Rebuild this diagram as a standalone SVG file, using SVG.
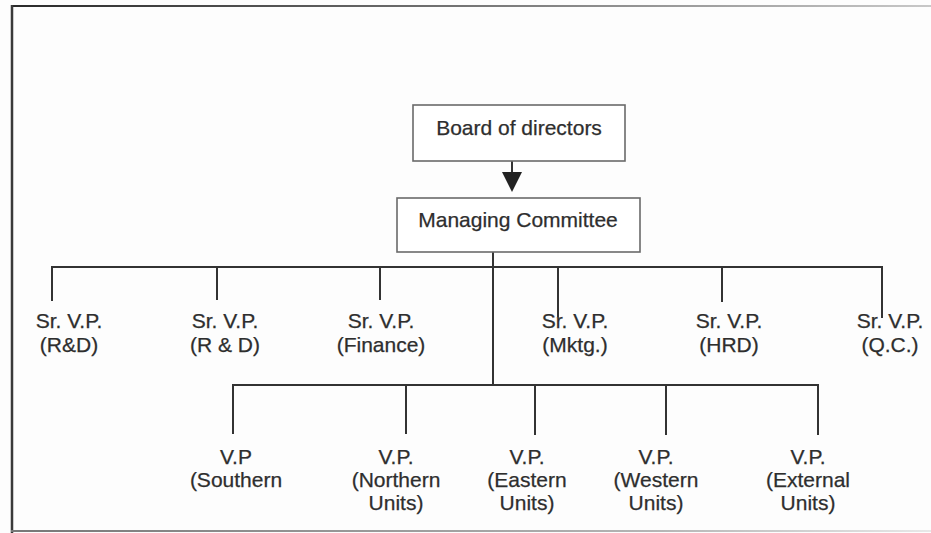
<svg xmlns="http://www.w3.org/2000/svg" width="931" height="533" viewBox="0 0 931 533">
  <defs>
    <style>
      .box { fill: #ffffff; stroke: #6a6a6a; stroke-width: 1.6; }
      .link { fill: none; stroke: #333333; stroke-width: 2; }
      .lbl { font-family: "Liberation Sans", Arial, sans-serif; font-size: 21px; fill: #2e2e2e; text-anchor: middle; stroke: #2e2e2e; stroke-width: 0.25; }
    </style>
    <linearGradient id="topEdge" gradientUnits="userSpaceOnUse" x1="11" y1="0" x2="931" y2="0">
      <stop offset="0" stop-color="#2a2a2a"/>
      <stop offset="0.3" stop-color="#555555"/>
      <stop offset="1" stop-color="#c8c8c8"/>
    </linearGradient>
    <linearGradient id="bottomEdge" gradientUnits="userSpaceOnUse" x1="11" y1="0" x2="931" y2="0">
      <stop offset="0" stop-color="#777777"/>
      <stop offset="0.7" stop-color="#b5b5b5"/>
      <stop offset="1" stop-color="#e8e8e8"/>
    </linearGradient>
  </defs>

  <!-- page -->
  <rect x="0" y="0" width="931" height="533" fill="#fdfdfd"/>
  <line x1="11" y1="6" x2="931" y2="6" stroke="url(#topEdge)" stroke-width="2"/>
  <line x1="12" y1="5" x2="12" y2="533" stroke="#3a3a3a" stroke-width="2.5"/>
  <line x1="11" y1="531" x2="931" y2="531" stroke="url(#bottomEdge)" stroke-width="2"/>

  <!-- connectors -->
  <g id="connectors">
    <line class="link" x1="512" y1="161" x2="512" y2="172"/>
    <path d="M502,172 L522,172 L512,192 Z" fill="#222222"/>
    <!-- senior VP bus -->
    <line class="link" x1="493" y1="252" x2="493" y2="386"/>
    <polyline class="link" points="52,301 52,267 882,267 882,318"/>
    <line class="link" x1="217" y1="267" x2="217" y2="300"/>
    <line class="link" x1="380" y1="267" x2="380" y2="300"/>
    <line class="link" x1="558" y1="267" x2="558" y2="317"/>
    <line class="link" x1="722" y1="267" x2="722" y2="302"/>
    <!-- VP bus -->
    <polyline class="link" points="233,434 233,385 818,385 818,435"/>
    <line class="link" x1="406" y1="385" x2="406" y2="434"/>
    <line class="link" x1="535" y1="385" x2="535" y2="435"/>
    <line class="link" x1="666" y1="385" x2="666" y2="435"/>
  </g>

  <g id="board">
    <rect class="box" x="413" y="105" width="212" height="56"/>
    <text class="lbl" x="519" y="135">Board of directors</text>
  </g>

  <g id="managing-committee">
    <rect class="box" x="397" y="198" width="243" height="54"/>
    <text class="lbl" x="518" y="227">Managing Committee</text>
  </g>

  <g id="svp-rnd-1">
    <text class="lbl" x="69" y="328">Sr. V.P.</text>
    <text class="lbl" x="69" y="352">(R&amp;D)</text>
  </g>
  <g id="svp-rnd-2">
    <text class="lbl" x="225" y="328">Sr. V.P.</text>
    <text class="lbl" x="225" y="352">(R &amp; D)</text>
  </g>
  <g id="svp-finance">
    <text class="lbl" x="381" y="328">Sr. V.P.</text>
    <text class="lbl" x="381" y="352">(Finance)</text>
  </g>
  <g id="svp-mktg">
    <text class="lbl" x="575" y="328">Sr. V.P.</text>
    <text class="lbl" x="575" y="352">(Mktg.)</text>
  </g>
  <g id="svp-hrd">
    <text class="lbl" x="729" y="328">Sr. V.P.</text>
    <text class="lbl" x="729" y="352">(HRD)</text>
  </g>
  <g id="svp-qc">
    <text class="lbl" x="890" y="328">Sr. V.P.</text>
    <text class="lbl" x="890" y="352">(Q.C.)</text>
  </g>

  <g id="vp-southern">
    <text class="lbl" x="236" y="464">V.P</text>
    <text class="lbl" x="236" y="487">(Southern</text>
  </g>
  <g id="vp-northern">
    <text class="lbl" x="396" y="464">V.P.</text>
    <text class="lbl" x="396" y="487">(Northern</text>
    <text class="lbl" x="396" y="510">Units)</text>
  </g>
  <g id="vp-eastern">
    <text class="lbl" x="527" y="464">V.P.</text>
    <text class="lbl" x="527" y="487">(Eastern</text>
    <text class="lbl" x="527" y="510">Units)</text>
  </g>
  <g id="vp-western">
    <text class="lbl" x="656" y="464">V.P.</text>
    <text class="lbl" x="656" y="487">(Western</text>
    <text class="lbl" x="656" y="510">Units)</text>
  </g>
  <g id="vp-external">
    <text class="lbl" x="808" y="464">V.P.</text>
    <text class="lbl" x="808" y="487">(External</text>
    <text class="lbl" x="808" y="510">Units)</text>
  </g>
</svg>
